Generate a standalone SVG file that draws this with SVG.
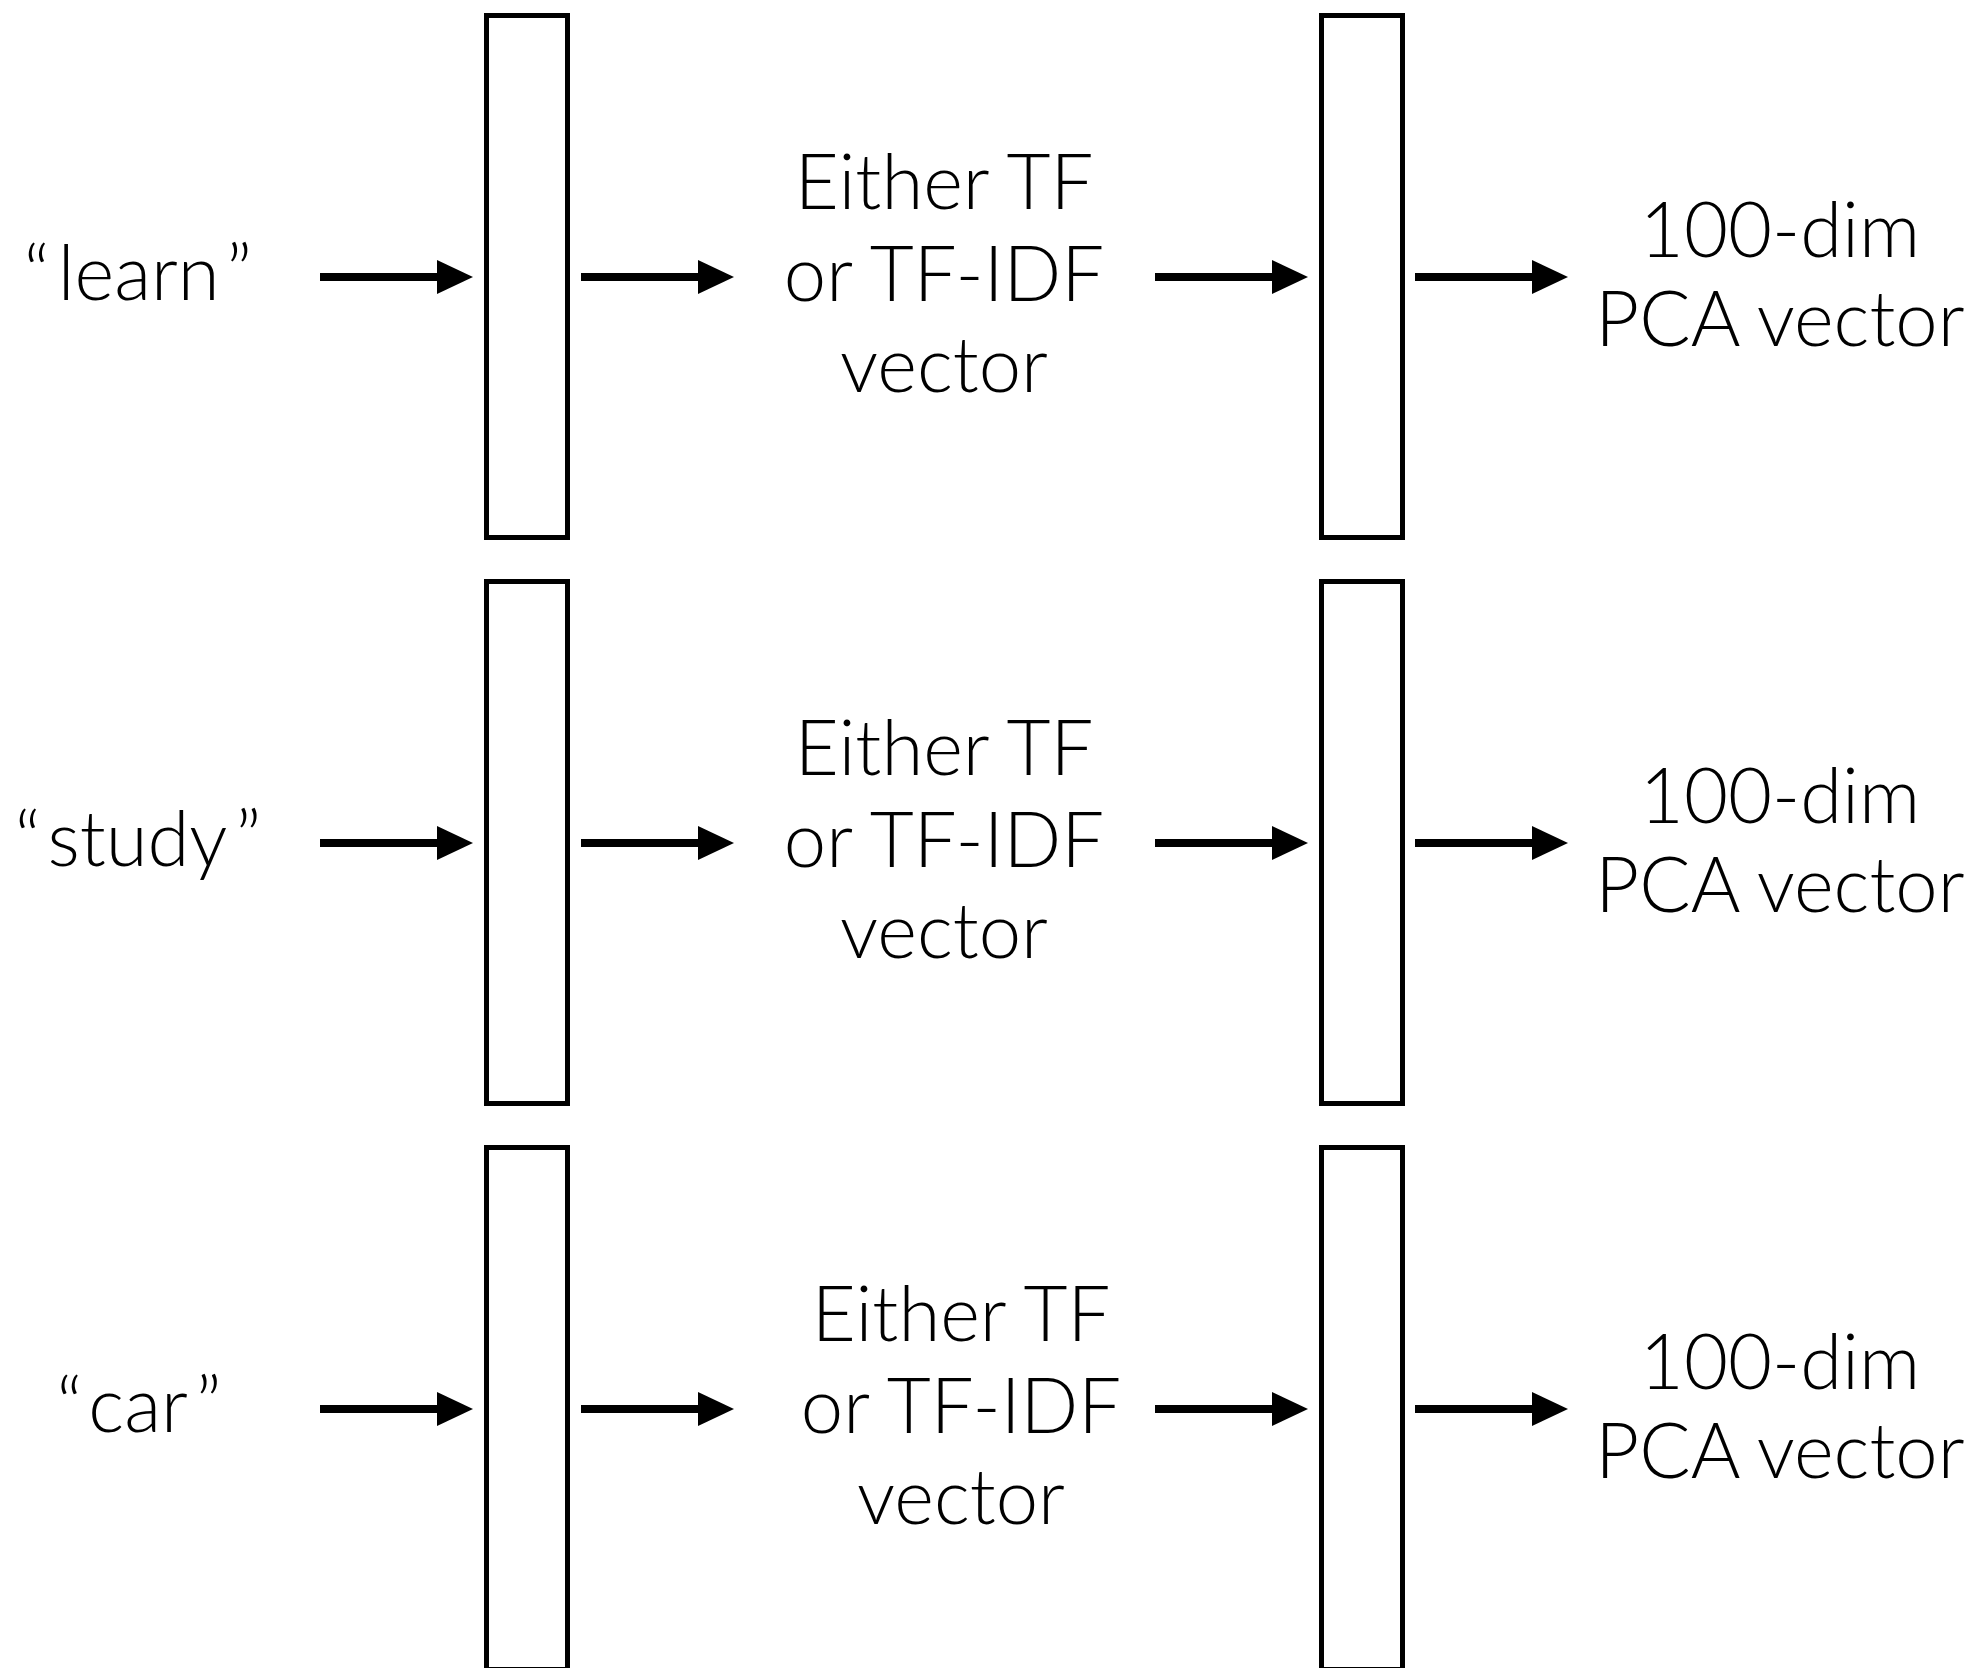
<svg xmlns="http://www.w3.org/2000/svg" width="1985" height="1668" viewBox="0 0 1985 1668">
<defs>
<marker id="ah" markerUnits="userSpaceOnUse" markerWidth="40" markerHeight="36" refX="1" refY="17" orient="auto" viewBox="0 0 40 36">
<path d="M0,0 L36,17 L0,34 z" fill="#000"/>
</marker>
<style>
.box{fill:#fff;stroke:#000;stroke-width:5}
.arr{stroke:#000;stroke-width:8;fill:none;marker-end:url(#ah)}
.t{font-family:Lato,"Noto Sans","Liberation Sans",sans-serif;font-weight:300;font-size:76px;fill:#000;text-anchor:middle}
</style>
</defs>
<rect width="1985" height="1668" fill="#fff"/>
<g id="connectors">
<line class="arr" x1="320" y1="277" x2="438" y2="277"/>
<line class="arr" x1="581" y1="277" x2="699" y2="277"/>
<line class="arr" x1="1155" y1="277" x2="1273" y2="277"/>
<line class="arr" x1="1415" y1="277" x2="1533" y2="277"/>
<line class="arr" x1="320" y1="843" x2="438" y2="843"/>
<line class="arr" x1="581" y1="843" x2="699" y2="843"/>
<line class="arr" x1="1155" y1="843" x2="1273" y2="843"/>
<line class="arr" x1="1415" y1="843" x2="1533" y2="843"/>
<line class="arr" x1="320" y1="1409" x2="438" y2="1409"/>
<line class="arr" x1="581" y1="1409" x2="699" y2="1409"/>
<line class="arr" x1="1155" y1="1409" x2="1273" y2="1409"/>
<line class="arr" x1="1415" y1="1409" x2="1533" y2="1409"/>
</g>
<g id="word1"><text class="t" x="138" y="300">“<tspan dx="8">learn</tspan><tspan dx="8">”</tspan></text></g>
<g id="word2"><text class="t" x="138" y="866">“<tspan dx="8">study</tspan><tspan dx="8">”</tspan></text></g>
<g id="word3"><text class="t" x="139" y="1432">“<tspan dx="8">car</tspan><tspan dx="8">”</tspan></text></g>
<g id="enc1"><rect class="box" x="486.5" y="15.5" width="81" height="522"/></g>
<g id="enc2"><rect class="box" x="486.5" y="581.5" width="81" height="522"/></g>
<g id="enc3"><rect class="box" x="486.5" y="1147.5" width="81" height="522"/></g>
<g id="vec1"><text class="t" x="944" y="209">Either TF</text><text class="t" x="944" y="301">or TF-IDF</text><text class="t" x="944" y="392">vector</text></g>
<g id="vec2"><text class="t" x="944" y="775">Either TF</text><text class="t" x="944" y="867">or TF-IDF</text><text class="t" x="944" y="958">vector</text></g>
<g id="vec3"><text class="t" x="961" y="1341">Either TF</text><text class="t" x="961" y="1433">or TF-IDF</text><text class="t" x="961" y="1524">vector</text></g>
<g id="pca1"><rect class="box" x="1321.5" y="15.5" width="81" height="522"/></g>
<g id="pca2"><rect class="box" x="1321.5" y="581.5" width="81" height="522"/></g>
<g id="pca3"><rect class="box" x="1321.5" y="1147.5" width="81" height="522"/></g>
<g id="out1"><text class="t" x="1780" y="257">100-dim</text><text class="t" x="1780" y="346">PCA vector</text></g>
<g id="out2"><text class="t" x="1780" y="823">100-dim</text><text class="t" x="1780" y="912">PCA vector</text></g>
<g id="out3"><text class="t" x="1780" y="1389">100-dim</text><text class="t" x="1780" y="1478">PCA vector</text></g>
</svg>
